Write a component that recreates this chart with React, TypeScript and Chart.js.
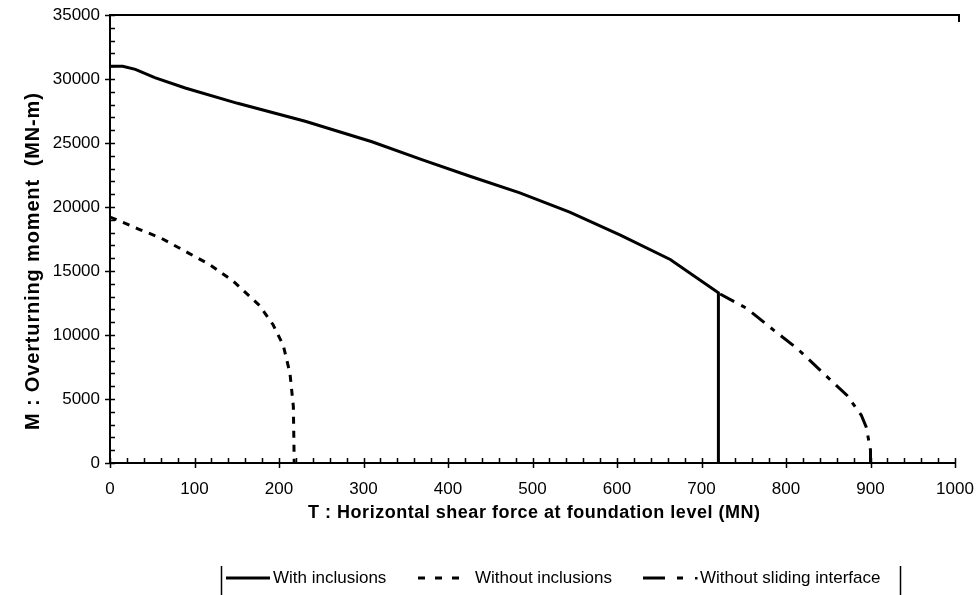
import React, { useEffect, useRef } from "react";
import { Chart, registerables } from "chart.js";

Chart.register(...registerables);

// ---- data ----
const withInclT = [0, 15, 30, 53, 89, 151, 231, 310, 369, 426, 485, 544, 604, 663, 720, 720];
const withInclM = [31000, 31000, 30750, 30100, 29300, 28100, 26700, 25100, 23700, 22400, 21100, 19600, 17800, 15900, 13300, 0];

const noInclT = [0, 8, 33, 61, 93, 118, 146, 177, 193, 205, 213, 217, 218];
const noInclM = [19200, 19000, 18300, 17550, 16400, 15500, 14200, 12300, 10800, 9200, 7000, 4400, 0];

const noSlideT = [722, 753, 785, 813, 840, 872, 889, 895, 900, 900];
const noSlideM = [13200, 12100, 10400, 8960, 7270, 5300, 3750, 2800, 1000, 0];

const xTickValues = [0, 100, 200, 300, 400, 500, 600, 700, 800, 900, 1000];
const yTickValues = [0, 5000, 10000, 15000, 20000, 25000, 30000, 35000];
const xMinorStep = 20;
const yMinorStep = 1000;

const seriesNames = ["With inclusions", "Without inclusions", "Without sliding interface"];
const xTitle = "T : Horizontal shear force at foundation level (MN)";
const yTitle = "M : Overturning moment  (MN-m)";

const FONT = "'Liberation Sans', Arial, Helvetica, sans-serif";

const toPts = (xs: number[], ys: number[]) => xs.map((v, i) => ({ x: v, y: ys[i] }));

const DASH_NOINCL = [7, 7];
const DASH_NOSLIDE = [16, 8, 5, 8];

function drawFitted(ctx: CanvasRenderingContext2D, text: string, target: number) {
  (ctx as any).letterSpacing = "0px";
  const w = ctx.measureText(text).width;
  const ls = Math.max(0, (target - w) / Math.max(1, text.length - 1));
  (ctx as any).letterSpacing = ls.toFixed(2) + "px";
  ctx.fillText(text, 0, 0);
  (ctx as any).letterSpacing = "0px";
}

const decorPlugin = {
  id: "decor",
  afterDraw(chart: any) {
    const { ctx, chartArea, scales } = chart;
    const { left, right, top, bottom } = chartArea;
    const xs = scales.x;
    const ys = scales.y;
    ctx.save();
    ctx.strokeStyle = "#000";
    ctx.fillStyle = "#000";

    // top frame line with small end tick
    ctx.lineWidth = 2;
    ctx.beginPath();
    ctx.moveTo(left, top);
    ctx.lineTo(right + 4, top);
    ctx.lineTo(right + 4, top + 7);
    ctx.stroke();

    // tick marks
    ctx.lineWidth = 1.5;
    ctx.beginPath();
    const xMin = xs.min, xMax = xs.max;
    for (let v = xMin; v <= xMax; v += xMinorStep) {
      const px = Math.round(xs.getPixelForValue(v)) + 0.5;
      const major = v % 100 === 0;
      ctx.moveTo(px, bottom - 5);
      ctx.lineTo(px, bottom + (major ? 5 : 0));
    }
    const yMin = ys.min, yMax = ys.max;
    for (let v = yMin; v <= yMax; v += yMinorStep) {
      const py = Math.round(ys.getPixelForValue(v)) + 0.5;
      const major = v % 5000 === 0;
      ctx.moveTo(left - (major ? 5 : 0), py);
      ctx.lineTo(left + 5, py);
    }
    ctx.stroke();

    // axis titles
    ctx.font = `bold 18px ${FONT}`;
    ctx.textBaseline = "middle";
    ctx.textAlign = "left";
    ctx.save();
    ctx.translate(308, 513);
    drawFitted(ctx, xTitle, 452);
    ctx.restore();

    ctx.font = `bold 20px ${FONT}`;
    ctx.save();
    ctx.translate(33, 430);
    ctx.rotate(-Math.PI / 2);
    drawFitted(ctx, yTitle, 337);
    ctx.restore();

    // legend
    const ly = 578;
    ctx.lineWidth = 1.5;
    ctx.beginPath();
    ctx.moveTo(221.5, 566);
    ctx.lineTo(221.5, 595);
    ctx.moveTo(900.5, 566);
    ctx.lineTo(900.5, 595);
    ctx.stroke();

    ctx.lineWidth = 3;
    ctx.setLineDash([]);
    ctx.beginPath();
    ctx.moveTo(226, ly);
    ctx.lineTo(270, ly);
    ctx.stroke();

    ctx.setLineDash([7, 10]);
    ctx.beginPath();
    ctx.moveTo(418, ly);
    ctx.lineTo(462, ly);
    ctx.stroke();

    ctx.setLineDash([22, 12, 6, 12]);
    ctx.beginPath();
    ctx.moveTo(643, ly);
    ctx.lineTo(684, ly);
    ctx.stroke();
    ctx.setLineDash([]);
    ctx.fillRect(695, ly - 1, 2.5, 2.5);

    ctx.font = `17px ${FONT}`;
    ctx.textBaseline = "middle";
    ctx.textAlign = "left";
    ctx.fillText(seriesNames[0], 273, ly);
    ctx.fillText(seriesNames[1], 475, ly);
    ctx.fillText(seriesNames[2], 700, ly);

    ctx.restore();
  },
};

export default function App() {
  const canvasRef = useRef<HTMLCanvasElement | null>(null);

  useEffect(() => {
    document.body.style.margin = "0";
    const canvas = canvasRef.current;
    if (!canvas) return;
    const chart = new Chart(canvas, {
      type: "line",
      data: {
        datasets: [
          {
            label: seriesNames[0],
            data: toPts(withInclT, withInclM),
            borderColor: "#000",
            borderWidth: 3,
            pointRadius: 0,
            tension: 0,
            fill: false,
          },
          {
            label: seriesNames[1],
            data: toPts(noInclT, noInclM),
            borderColor: "#000",
            borderWidth: 3,
            borderDash: DASH_NOINCL,
            pointRadius: 0,
            tension: 0,
            fill: false,
          },
          {
            label: seriesNames[2],
            data: toPts(noSlideT, noSlideM),
            borderColor: "#000",
            borderWidth: 3,
            borderDash: DASH_NOSLIDE,
            pointRadius: 0,
            tension: 0,
            fill: false,
          },
        ],
      },
      options: {
        responsive: false,
        animation: false,
        events: [],
        layout: { padding: { left: 0, top: 15, right: 21, bottom: 0 } },
        plugins: {
          legend: { display: false },
          tooltip: { enabled: false },
          title: { display: false },
        },
        scales: {
          x: {
            type: "linear",
            min: 0,
            max: 1000,
            afterBuildTicks: (s: any) => {
              s.ticks = xTickValues.map((v) => ({ value: v }));
            },
            afterFit: (s: any) => {
              s.height = 132;
              s.paddingLeft = 0;
              s.paddingRight = 0;
            },
            grid: { display: false, drawTicks: false },
            border: { display: true, color: "#000", width: 2 },
            ticks: {
              color: "#000",
              font: { family: FONT, size: 17 },
              padding: 16,
              maxRotation: 0,
              autoSkip: false,
              callback: (v: any) => String(v),
            },
          },
          y: {
            type: "linear",
            min: 0,
            max: 35000,
            afterBuildTicks: (s: any) => {
              s.ticks = yTickValues.map((v) => ({ value: v }));
            },
            afterFit: (s: any) => {
              s.width = 110;
              s.paddingTop = 0;
              s.paddingBottom = 0;
            },
            grid: { display: false, drawTicks: false },
            border: { display: true, color: "#000", width: 2 },
            ticks: {
              color: "#000",
              font: { family: FONT, size: 17 },
              padding: 10,
              autoSkip: false,
              callback: (v: any) => String(v),
            },
          },
        },
      },
      plugins: [decorPlugin],
    });
    return () => chart.destroy();
  }, []);

  return (
    <div style={{ position: "fixed", left: 0, top: 0, width: 976, height: 595, background: "#fff" }}>
      <canvas ref={canvasRef} width={976} height={595} style={{ display: "block" }} />
    </div>
  );
}
